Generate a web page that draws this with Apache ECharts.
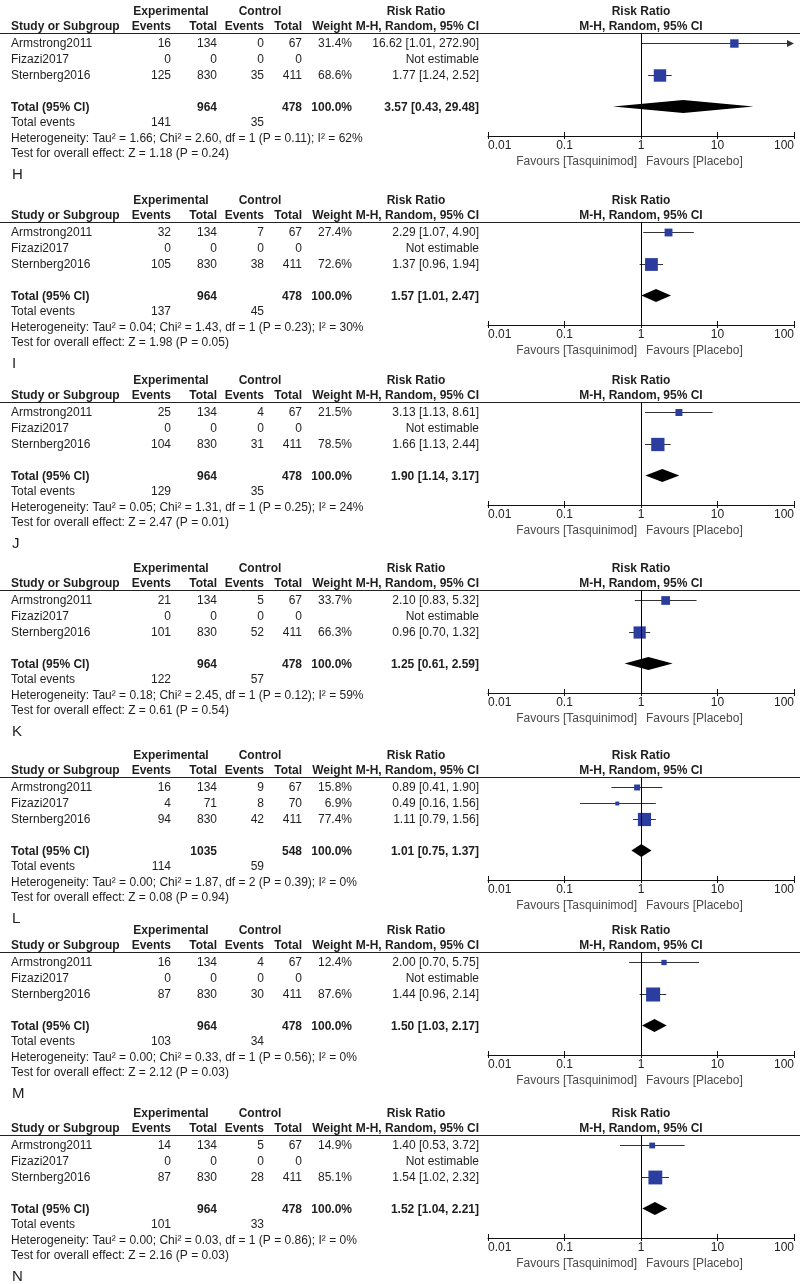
<!DOCTYPE html>
<html><head><meta charset="utf-8">
<script src="https://cdn.jsdelivr.net/npm/echarts/dist/echarts.min.js"></script>
<style>html,body{margin:0;padding:0;background:#fff}#chart{width:800px;height:1284px}</style>
</head><body><div id="chart"></div>
<script>
// ---------------- DATA ----------------
const panelLabels = ['H','I','J','K','L','M','N'];
const studyNames = ['Armstrong2011','Fizazi2017','Sternberg2016'];
const expEvents = [[16,0,125],[32,0,105],[25,0,104],[21,0,101],[16,4,94],[16,0,87],[14,0,87]];
const expTotals = [[134,0,830],[134,0,830],[134,0,830],[134,0,830],[134,71,830],[134,0,830],[134,0,830]];
const ctlEvents = [[0,0,35],[7,0,38],[4,0,31],[5,0,52],[9,8,42],[4,0,30],[5,0,28]];
const ctlTotals = [[67,0,411],[67,0,411],[67,0,411],[67,0,411],[67,70,411],[67,0,411],[67,0,411]];
const weights = [[31.4,null,68.6],[27.4,null,72.6],[21.5,null,78.5],[33.7,null,66.3],[15.8,6.9,77.4],[12.4,null,87.6],[14.9,null,85.1]];
const riskRatios = [[16.62,null,1.77],[2.29,null,1.37],[3.13,null,1.66],[2.10,null,0.96],[0.89,0.49,1.11],[2.00,null,1.44],[1.40,null,1.54]];
const ciLower = [[1.01,null,1.24],[1.07,null,0.96],[1.13,null,1.13],[0.83,null,0.70],[0.41,0.16,0.79],[0.70,null,0.96],[0.53,null,1.02]];
const ciUpper = [[272.90,null,2.52],[4.90,null,1.94],[8.61,null,2.44],[5.32,null,1.32],[1.90,1.56,1.56],[5.75,null,2.14],[3.72,null,2.32]];
const totalExpN = [964,964,964,964,1035,964,964];
const totalCtlN = [478,478,478,478,548,478,478];
const totalExpEvents = [141,137,129,122,114,103,101];
const totalCtlEvents = [35,45,35,57,59,34,33];
const pooledRR = [3.57,1.57,1.90,1.25,1.01,1.50,1.52];
const pooledLower = [0.43,1.01,1.14,0.61,0.75,1.03,1.04];
const pooledUpper = [29.48,2.47,3.17,2.59,1.37,2.17,2.21];
const heterogeneity = [
  'Heterogeneity: Tau\u00b2 = 1.66; Chi\u00b2 = 2.60, df = 1 (P = 0.11); I\u00b2 = 62%',
  'Heterogeneity: Tau\u00b2 = 0.04; Chi\u00b2 = 1.43, df = 1 (P = 0.23); I\u00b2 = 30%',
  'Heterogeneity: Tau\u00b2 = 0.05; Chi\u00b2 = 1.31, df = 1 (P = 0.25); I\u00b2 = 24%',
  'Heterogeneity: Tau\u00b2 = 0.18; Chi\u00b2 = 2.45, df = 1 (P = 0.12); I\u00b2 = 59%',
  'Heterogeneity: Tau\u00b2 = 0.00; Chi\u00b2 = 1.87, df = 2 (P = 0.39); I\u00b2 = 0%',
  'Heterogeneity: Tau\u00b2 = 0.00; Chi\u00b2 = 0.33, df = 1 (P = 0.56); I\u00b2 = 0%',
  'Heterogeneity: Tau\u00b2 = 0.00; Chi\u00b2 = 0.03, df = 1 (P = 0.86); I\u00b2 = 0%'
];
const overallEffect = [
  'Test for overall effect: Z = 1.18 (P = 0.24)',
  'Test for overall effect: Z = 1.98 (P = 0.05)',
  'Test for overall effect: Z = 2.47 (P = 0.01)',
  'Test for overall effect: Z = 0.61 (P = 0.54)',
  'Test for overall effect: Z = 0.08 (P = 0.94)',
  'Test for overall effect: Z = 2.12 (P = 0.03)',
  'Test for overall effect: Z = 2.16 (P = 0.03)'
];
const tickValues = [0.01, 0.1, 1, 10, 100];
const tickLabels = ['0.01', '0.1', '1', '10', '100'];
const favourLeft = 'Favours [Tasquinimod]';
const favourRight = 'Favours [Placebo]';

// ---------------- LAYOUT ----------------
const panelTop = [0, 189, 369, 557, 744, 919, 1102];
const FONT = '"Liberation Sans", Arial, sans-serif';
const TXT = '#1e1e1e';
const ROW_H = 16, ROW_PAD = 0.6, GRID_H = 103;
const rowY = (o, r) => o + 33 + (r + ROW_PAD) * ROW_H + 1.5;
const col = { name: 11, expEv: 171, expTot: 217, ctlEv: 264, ctlTot: 302, weight: 352, rr: 479 };

const graphics = [];
function txt(x, y, text, opts) {
  opts = opts || {};
  const align = opts.align || 'left';
  graphics.push({
    type: 'text', x: x, y: y, silent: true,
    style: {
      text: String(text),
      font: (opts.bold ? 'bold ' : '') + (opts.size || 12) + 'px ' + FONT,
      fill: opts.color || TXT,
      textAlign: align, align: align,
      textVerticalAlign: 'middle', verticalAlign: 'middle'
    }
  });
}
const fmtRR = (e, l, h) => e.toFixed(2) + ' [' + l.toFixed(2) + ', ' + h.toFixed(2) + ']';

const grids = [], xAxes = [], yAxes = [], series = [];
panelLabels.forEach((lab, p) => {
  const o = panelTop[p];
  // headers
  txt(col.expEv, o + 12, 'Experimental', { bold: true, align: 'center' });
  txt(260, o + 12, 'Control', { bold: true, align: 'center' });
  txt(416, o + 12, 'Risk Ratio', { bold: true, align: 'center' });
  txt(641, o + 12, 'Risk Ratio', { bold: true, align: 'center' });
  txt(col.name, o + 27, 'Study or Subgroup', { bold: true });
  txt(col.expEv, o + 27, 'Events', { bold: true, align: 'right' });
  txt(col.expTot, o + 27, 'Total', { bold: true, align: 'right' });
  txt(col.ctlEv, o + 27, 'Events', { bold: true, align: 'right' });
  txt(col.ctlTot, o + 27, 'Total', { bold: true, align: 'right' });
  txt(col.weight, o + 27, 'Weight', { bold: true, align: 'right' });
  txt(col.rr, o + 27, 'M-H, Random, 95% CI', { bold: true, align: 'right' });
  txt(641, o + 27, 'M-H, Random, 95% CI', { bold: true, align: 'center' });
  graphics.push({ type: 'line', silent: true, shape: { x1: 0, y1: o + 33.5, x2: 800, y2: o + 33.5 }, style: { stroke: '#222', lineWidth: 1 } });

  // study rows
  studyNames.forEach((s, i) => {
    const y = rowY(o, i);
    txt(col.name, y, s);
    txt(col.expEv, y, expEvents[p][i], { align: 'right' });
    txt(col.expTot, y, expTotals[p][i], { align: 'right' });
    txt(col.ctlEv, y, ctlEvents[p][i], { align: 'right' });
    txt(col.ctlTot, y, ctlTotals[p][i], { align: 'right' });
    if (weights[p][i] != null) txt(col.weight, y, weights[p][i].toFixed(1) + '%', { align: 'right' });
    if (riskRatios[p][i] != null) txt(col.rr, y, fmtRR(riskRatios[p][i], ciLower[p][i], ciUpper[p][i]), { align: 'right' });
    else txt(col.rr, y, 'Not estimable', { align: 'right' });
  });
  // total row
  const yt = rowY(o, 4);
  txt(col.name, yt, 'Total (95% CI)', { bold: true });
  txt(col.expTot, yt, totalExpN[p], { bold: true, align: 'right' });
  txt(col.ctlTot, yt, totalCtlN[p], { bold: true, align: 'right' });
  txt(col.weight, yt, '100.0%', { bold: true, align: 'right' });
  txt(col.rr, yt, fmtRR(pooledRR[p], pooledLower[p], pooledUpper[p]), { bold: true, align: 'right' });
  txt(col.name, o + 123, 'Total events');
  txt(col.expEv, o + 123, totalExpEvents[p], { align: 'right' });
  txt(col.ctlEv, o + 123, totalCtlEvents[p], { align: 'right' });
  txt(col.name, o + 139, heterogeneity[p]);
  txt(col.name, o + 154, overallEffect[p]);
  txt(12, o + 175, lab, { size: 15 });
  txt(637, o + 162, favourLeft, { align: 'right', color: '#4a4a4a' });
  txt(646, o + 162, favourRight, { color: '#4a4a4a' });

  // chart area
  grids.push({ left: 488, width: 306, top: o + 33, height: GRID_H });
  const base = {
    type: 'log', logBase: 10, min: 0.01, max: 100, gridIndex: p, position: 'bottom',
    splitLine: { show: false }, splitNumber: 4
  };
  xAxes.push(Object.assign({}, base, {
    axisLine: { show: true, onZero: false, lineStyle: { color: '#111', width: 1 } },
    axisTick: { show: true, inside: false, length: 3, lineStyle: { color: '#111' } },
    axisLabel: {
      show: true, margin: 4, fontSize: 12, fontFamily: FONT, color: '#222',
      alignMinLabel: 'left', alignMaxLabel: 'right',
      formatter: v => {
        let best = 0, bd = 1e9;
        tickValues.forEach((t, k) => { const d = Math.abs(Math.log10(t) - Math.log10(v)); if (d < bd) { bd = d; best = k; } });
        return tickLabels[best];
      }
    }
  }));
  xAxes.push(Object.assign({}, base, {
    axisLine: { show: false, onZero: false },
    axisTick: { show: true, inside: true, length: 4, lineStyle: { color: '#111' } },
    axisLabel: { show: false }
  }));
  yAxes.push({
    type: 'value', gridIndex: p, min: -ROW_PAD, max: GRID_H / ROW_H - ROW_PAD, inverse: true, show: false
  });

  const data = [];
  studyNames.forEach((s, i) => {
    if (riskRatios[p][i] != null) data.push([riskRatios[p][i], ciLower[p][i], ciUpper[p][i], i, weights[p][i], 0]);
  });
  data.push([pooledRR[p], pooledLower[p], pooledUpper[p], 4, 100, 1]);

  series.push({
    type: 'custom', xAxisIndex: 2 * p, yAxisIndex: p, silent: true,
    encode: { x: 0, y: 3 },
    data: data,
    renderItem: (params, api) => {
      const est = api.value(0), lo = api.value(1), hi = api.value(2), row = api.value(3), w = api.value(4), kind = api.value(5);
      const yRaw = api.coord([1, row])[1];
      const y = Math.round(yRaw) + 0.5;
      const x1 = api.coord([Math.max(lo, 0.01), row])[0];
      const x2 = api.coord([Math.min(hi, 100), row])[0];
      const xe = api.coord([est, row])[0];
      const children = [];
      if (kind === 1) {
        const h = 6.5;
        children.push({ type: 'polygon', shape: { points: [[x1, yRaw], [xe, yRaw - h], [x2, yRaw], [xe, yRaw + h]] }, style: { fill: '#000' } });
      } else {
        children.push({ type: 'line', shape: { x1: x1, y1: y, x2: hi > 100 ? x2 - 2 : x2, y2: y }, style: { stroke: '#333', lineWidth: 1 } });
        if (hi > 100) children.push({ type: 'polygon', shape: { points: [[x2, y], [x2 - 7, y - 3.5], [x2 - 7, y + 3.5]] }, style: { fill: '#333' } });
        const s = 15 * Math.sqrt(w / 100);
        children.push({ type: 'rect', shape: { x: xe - s / 2, y: y - s / 2, width: s, height: s }, style: { fill: '#2b3d9e' } });
      }
      return { type: 'group', children: children };
    },
    markLine: {
      silent: true, symbol: ['none', 'none'], label: { show: false },
      lineStyle: { color: '#000', width: 1, type: 'solid' },
      data: [{ xAxis: 1 }]
    },
    z: 3
  });
});

const chart = echarts.init(document.getElementById('chart'), null, { renderer: 'canvas' });
chart.setOption({
  animation: false,
  backgroundColor: '#fff',
  grid: grids, xAxis: xAxes, yAxis: yAxes, series: series,
  graphic: { elements: graphics }
});
</script></body></html>
